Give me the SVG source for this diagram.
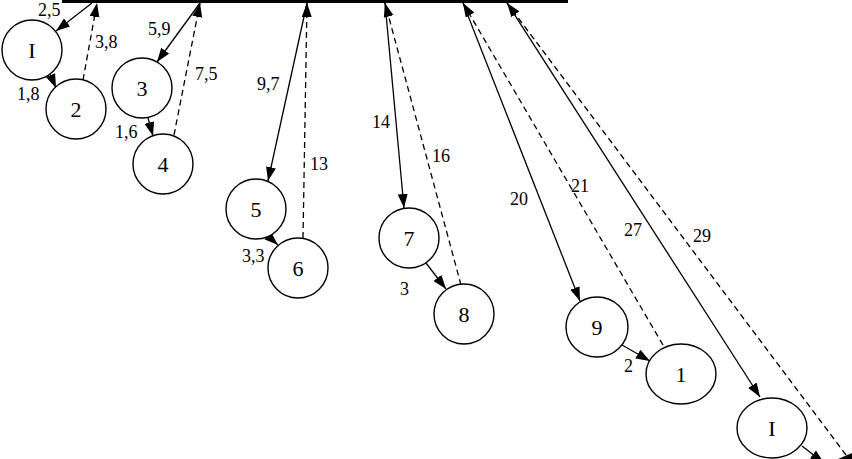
<svg xmlns="http://www.w3.org/2000/svg" width="852" height="459" viewBox="0 0 852 459">
<style>
.n{fill:#fff;stroke:#000;stroke-width:1.4}
.nt{font-family:"Liberation Serif","Times New Roman",serif;font-size:22px;text-anchor:middle;fill:#000}
.lb{font-family:"Liberation Serif","Times New Roman",serif;font-size:18px;fill:#000}
.s{fill:none;stroke:#000;stroke-width:1.3;marker-end:url(#a)}
.d{fill:none;stroke:#000;stroke-width:1.3;stroke-dasharray:6,4;marker-end:url(#a)}
</style>
<defs>
<marker id="a" markerUnits="userSpaceOnUse" markerWidth="15" markerHeight="11" refX="14" refY="5" orient="auto" viewBox="0 0 15 11">
<path d="M0,0 L14,5 L0,10 z" fill="#000"/>
</marker>
</defs>
<rect width="852" height="459" fill="#fff"/>
<line x1="62" y1="1.5" x2="568" y2="1.5" stroke="#000" stroke-width="3"/>
<g id="connectors">
<path class="s" d="M92,3 L56,31"/>
<path class="d" d="M83,80 L97,3"/>
<path class="s" d="M50,74 L56,88"/>
<path class="s" d="M200,3 L157,62"/>
<path class="d" d="M174,135 L200,3"/>
<path class="s" d="M148,118 L153,136"/>
<path class="s" d="M307,3 L268,181"/>
<path class="d" d="M303,238 L307,3"/>
<path class="s" d="M268,236 L278,245"/>
<path class="s" d="M385,3 L404,208"/>
<path class="d" d="M461,285 L385,3"/>
<path class="s" d="M426,263 L446,289"/>
<path class="s" d="M463,3 L580,301"/>
<path class="d" d="M663,345 L463,3"/>
<path class="s" d="M622,345 L650,361"/>
<path class="s" d="M507,3 L760,397"/>
<path class="d" d="M852,463 L507,3"/>
<path class="s" d="M802,446 L824,463"/>
<polygon points="838,459 852,459 852,453" fill="#000"/>
</g>
<g id="labels">
<text class="lb" x="38" y="16">2,5</text>
<text class="lb" x="95" y="48">3,8</text>
<text class="lb" x="17" y="100">1,8</text>
<text class="lb" x="148" y="35">5,9</text>
<text class="lb" x="195" y="80">7,5</text>
<text class="lb" x="115" y="138">1,6</text>
<text class="lb" x="257" y="90">9,7</text>
<text class="lb" x="310" y="170">13</text>
<text class="lb" x="242" y="262">3,3</text>
<text class="lb" x="372" y="128">14</text>
<text class="lb" x="432" y="162">16</text>
<text class="lb" x="400" y="295">3</text>
<text class="lb" x="510" y="205">20</text>
<text class="lb" x="571" y="192">21</text>
<text class="lb" x="624" y="236">27</text>
<text class="lb" x="693" y="242">29</text>
<text class="lb" x="624" y="372">2</text>
</g>
<g id="node1"><circle class="n" cx="32" cy="50" r="30"/><text class="nt" x="32" y="58">I</text></g>
<g id="node2"><circle class="n" cx="76" cy="109" r="30"/><text class="nt" x="76" y="117">2</text></g>
<g id="node3"><circle class="n" cx="142" cy="88" r="30"/><text class="nt" x="142" y="96">3</text></g>
<g id="node4"><circle class="n" cx="163" cy="164" r="30"/><text class="nt" x="163" y="172">4</text></g>
<g id="node5"><circle class="n" cx="256" cy="209" r="30"/><text class="nt" x="256" y="217">5</text></g>
<g id="node6"><circle class="n" cx="298" cy="268" r="30"/><text class="nt" x="298" y="276">6</text></g>
<g id="node7"><circle class="n" cx="409" cy="238" r="30"/><text class="nt" x="409" y="246">7</text></g>
<g id="node8"><circle class="n" cx="464" cy="314" r="30"/><text class="nt" x="464" y="322">8</text></g>
<g id="node9"><ellipse class="n" cx="597" cy="327" rx="31" ry="30"/><text class="nt" x="597" y="335">9</text></g>
<g id="node10"><ellipse class="n" cx="681" cy="374" rx="35" ry="30"/><text class="nt" x="681" y="382">1</text></g>
<g id="node11"><ellipse class="n" cx="772" cy="428" rx="35" ry="30"/><text class="nt" x="772" y="436">I</text></g>
</svg>
